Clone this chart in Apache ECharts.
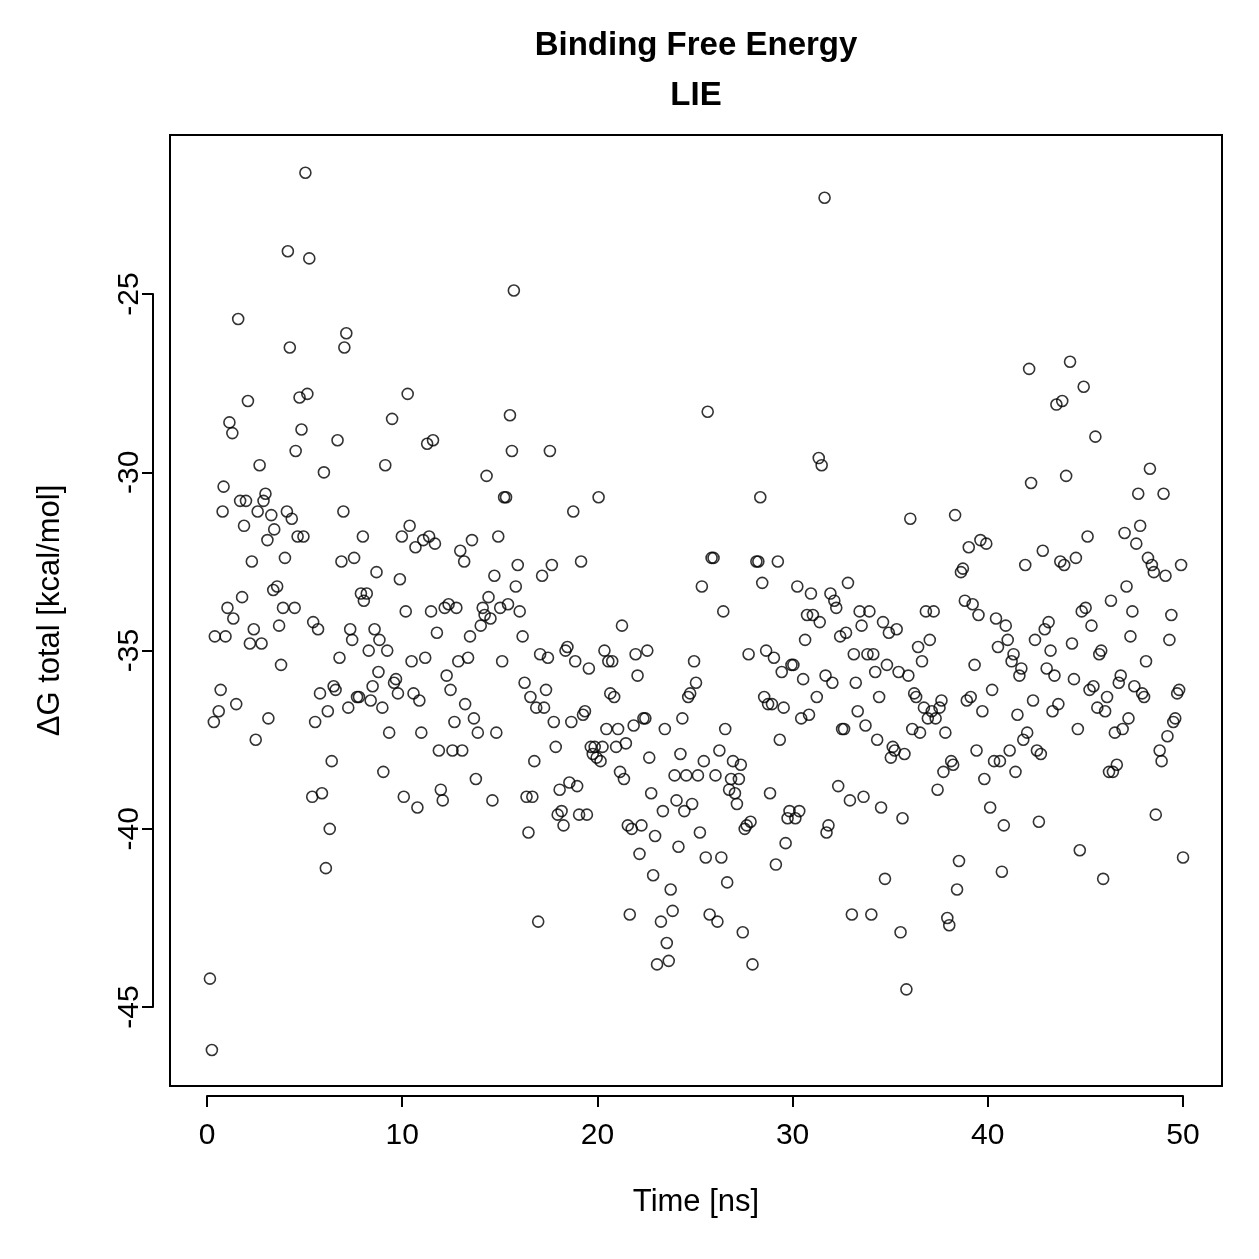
<!DOCTYPE html>
<html>
<head>
<meta charset="utf-8">
<script src="https://cdn.jsdelivr.net/npm/echarts@6/dist/echarts.min.js"></script>
<style>
  html, body { margin: 0; padding: 0; background: #fff; }
  #chart { width: 1259px; height: 1259px; }
</style>
</head>
<body>
<div id="chart"></div>
<script>
// [time in ns, dG total in kcal/mol]
const run0to10 = [
  [0.05,-44.2],[0.15,-46.2],[0.25,-37.0],[0.3,-34.6],[0.5,-36.7],[0.6,-36.1],[0.7,-31.1],[0.75,-30.4],[0.85,-34.6],[0.95,-33.8],
  [1.05,-28.6],[1.2,-28.9],[1.25,-34.1],[1.4,-36.5],[1.5,-25.7],[1.6,-30.8],[1.7,-33.5],[1.8,-31.5],[1.9,-30.8],[2.0,-28.0],
  [2.1,-34.8],[2.2,-32.5],[2.3,-34.4],[2.4,-37.5],[2.5,-31.1],[2.6,-29.8],[2.7,-34.8],[2.8,-30.8],[2.9,-30.6],[3.0,-31.9],
  [3.05,-36.9],[3.2,-31.2],[3.3,-33.3],[3.35,-31.6],[3.5,-33.2],[3.6,-34.3],[3.7,-35.4],[3.8,-33.8],[3.9,-32.4],[4.0,-31.1],
  [4.05,-23.8],[4.15,-26.5],[4.25,-31.3],[4.4,-33.8],[4.45,-29.4],[4.55,-31.8],[4.65,-27.9],[4.75,-28.8],[4.85,-31.8],[4.95,-21.6],
  [5.05,-27.8],[5.15,-24.0],[5.3,-39.1],[5.35,-34.2],[5.45,-37.0],[5.6,-34.4],[5.7,-36.2],[5.8,-39.0],[5.9,-30.0],[6.0,-41.1],
  [6.1,-36.7],[6.2,-40.0],[6.3,-38.1],[6.4,-36.0],[6.5,-36.1],[6.6,-29.1],[6.7,-35.2],[6.8,-32.5],[6.9,-31.1],[6.95,-26.5],
  [7.05,-26.1],[7.15,-36.6],[7.25,-34.4],[7.35,-34.7],[7.45,-32.4],[7.6,-36.3],[7.7,-36.3],[7.8,-33.4],[7.9,-31.8],[7.95,-33.6],
  [8.1,-33.4],[8.2,-35.0],[8.3,-36.4],[8.4,-36.0],[8.5,-34.4],[8.6,-32.8],[8.7,-35.6],[8.75,-34.7],[8.9,-36.6],[8.95,-38.4],
  [9.05,-29.8],[9.15,-35.0],[9.25,-37.3],[9.4,-28.5],[9.5,-35.9],[9.6,-35.8],[9.7,-36.2],[9.8,-33.0],[9.9,-31.8]
]
const run10to20 = [
  [10.0,-39.1],[10.1,-33.9],[10.2,-27.8],[10.3,-31.5],[10.4,-35.3],[10.5,-36.2],[10.6,-32.1],[10.7,-39.4],[10.8,-36.4],[10.9,-37.3],
  [11.0,-31.9],[11.1,-35.2],[11.2,-29.2],[11.3,-31.8],[11.4,-33.9],[11.5,-29.1],[11.6,-32.0],[11.7,-34.5],[11.8,-37.8],[11.9,-38.9],
  [12.0,-39.2],[12.1,-33.8],[12.2,-35.7],[12.3,-33.7],[12.4,-36.1],[12.5,-37.8],[12.6,-37.0],[12.7,-33.8],[12.8,-35.3],[12.9,-32.2],
  [13.0,-37.8],[13.1,-32.5],[13.15,-36.5],[13.3,-35.2],[13.4,-34.6],[13.5,-31.9],[13.6,-36.9],[13.7,-38.6],[13.8,-37.3],[13.95,-34.3],
  [14.05,-33.8],[14.15,-34.0],[14.25,-30.1],[14.35,-33.5],[14.45,-34.1],[14.55,-39.2],[14.65,-32.9],[14.75,-37.3],[14.85,-31.8],[14.95,-33.8],
  [15.05,-35.3],[15.15,-30.7],[15.25,-30.7],[15.35,-33.7],[15.45,-28.4],[15.55,-29.4],[15.65,-24.9],[15.75,-33.2],[15.85,-32.6],[15.95,-33.9],
  [16.1,-34.6],[16.2,-35.9],[16.3,-39.1],[16.4,-40.1],[16.5,-36.3],[16.6,-39.1],[16.7,-38.1],[16.8,-36.6],[16.9,-42.6],[17.0,-35.1],
  [17.1,-32.9],[17.2,-36.6],[17.3,-36.1],[17.4,-35.2],[17.5,-29.4],[17.6,-32.6],[17.7,-37.0],[17.8,-37.7],[17.9,-39.6],[18.0,-38.9],
  [18.1,-39.5],[18.2,-39.9],[18.3,-35.0],[18.4,-34.9],[18.5,-38.7],[18.6,-37.0],[18.7,-31.1],[18.8,-35.3],[18.9,-38.8],[19.0,-39.6],
  [19.1,-32.5],[19.2,-36.8],[19.3,-36.7],[19.4,-39.6],[19.5,-35.5],[19.6,-37.7],[19.7,-37.9],[19.8,-37.7],[19.9,-38.0]
]
const run20to30 = [
  [20.0,-30.7],[20.1,-38.1],[20.2,-37.7],[20.3,-35.0],[20.4,-37.2],[20.5,-35.3],[20.6,-36.2],[20.7,-35.3],[20.8,-36.3],[20.9,-37.7],
  [21.0,-37.2],[21.1,-38.4],[21.2,-34.3],[21.3,-38.6],[21.4,-37.6],[21.5,-39.9],[21.6,-42.4],[21.7,-40.0],[21.8,-37.1],[21.9,-35.1],
  [22.0,-35.7],[22.1,-40.7],[22.2,-39.9],[22.3,-36.9],[22.4,-36.9],[22.5,-35.0],[22.6,-38.0],[22.7,-39.0],[22.8,-41.3],[22.9,-40.2],
  [23.0,-43.8],[23.2,-42.6],[23.3,-39.5],[23.4,-37.2],[23.5,-43.2],[23.6,-43.7],[23.7,-41.7],[23.8,-42.3],[23.9,-38.5],[24.0,-39.2],
  [24.1,-40.5],[24.2,-37.9],[24.3,-36.9],[24.4,-39.5],[24.5,-38.5],[24.6,-36.3],[24.7,-36.2],[24.8,-39.3],[24.9,-35.3],[25.0,-35.9],
  [25.1,-38.5],[25.2,-40.1],[25.3,-33.2],[25.4,-38.1],[25.5,-40.8],[25.6,-28.3],[25.7,-42.4],[25.8,-32.4],[25.9,-32.4],[26.0,-38.5],
  [26.1,-42.6],[26.2,-37.8],[26.3,-40.8],[26.4,-33.9],[26.5,-37.2],[26.6,-41.5],[26.7,-38.9],[26.8,-38.6],[26.9,-38.1],[27.0,-39.0],
  [27.1,-39.3],[27.2,-38.6],[27.3,-38.2],[27.4,-42.9],[27.5,-40.0],[27.6,-39.9],[27.7,-35.1],[27.8,-39.8],[27.9,-43.8],[28.1,-32.5],
  [28.2,-32.5],[28.3,-30.7],[28.4,-33.1],[28.5,-36.3],[28.6,-35.0],[28.7,-36.5],[28.8,-39.0],[28.9,-36.5],[29.0,-35.2],[29.1,-41.0],
  [29.2,-32.5],[29.3,-37.5],[29.4,-35.6],[29.5,-36.6],[29.6,-40.4],[29.7,-39.7],[29.8,-39.5],[29.9,-35.4]
]
const run30to40 = [
  [30.0,-35.4],[30.1,-39.7],[30.2,-33.2],[30.3,-39.5],[30.4,-36.9],[30.5,-35.8],[30.6,-34.7],[30.7,-34.0],[30.8,-36.8],[30.9,-33.4],
  [31.0,-34.0],[31.2,-36.3],[31.3,-29.6],[31.35,-34.2],[31.45,-29.8],[31.6,-22.3],[31.65,-35.7],[31.7,-40.1],[31.8,-39.9],[31.9,-33.4],
  [32.0,-35.9],[32.1,-33.6],[32.2,-33.8],[32.3,-38.8],[32.4,-34.6],[32.5,-37.2],[32.6,-37.2],[32.7,-34.5],[32.8,-33.1],[32.9,-39.2],
  [33.0,-42.4],[33.1,-35.1],[33.2,-35.9],[33.3,-36.7],[33.4,-33.9],[33.5,-34.3],[33.6,-39.1],[33.7,-37.1],[33.8,-35.1],[33.9,-33.9],
  [34.0,-42.4],[34.1,-35.1],[34.2,-35.6],[34.3,-37.5],[34.4,-36.3],[34.5,-39.4],[34.6,-34.2],[34.7,-41.4],[34.8,-35.4],[34.9,-34.5],
  [35.0,-38.0],[35.1,-37.7],[35.2,-37.8],[35.3,-34.4],[35.4,-35.6],[35.5,-42.9],[35.6,-39.7],[35.7,-37.9],[35.8,-44.5],[35.9,-35.7],
  [36.0,-31.3],[36.1,-37.2],[36.2,-36.2],[36.3,-36.3],[36.4,-34.9],[36.5,-37.3],[36.6,-35.3],[36.7,-36.6],[36.8,-33.9],[36.9,-36.9],
  [37.0,-34.7],[37.1,-36.7],[37.2,-33.9],[37.3,-36.9],[37.4,-38.9],[37.5,-36.6],[37.6,-36.4],[37.7,-38.4],[37.8,-37.3],[37.9,-42.5],
  [38.0,-42.7],[38.1,-38.1],[38.2,-38.2],[38.3,-31.2],[38.4,-41.7],[38.5,-40.9],[38.6,-32.8],[38.7,-32.7],[38.8,-33.6],[38.9,-36.4],
  [39.0,-32.1],[39.1,-36.3],[39.2,-33.7],[39.3,-35.4],[39.4,-37.8],[39.5,-34.0],[39.6,-31.9],[39.7,-36.7],[39.8,-38.6],[39.9,-32.0]
]
const run40to50 = [
  [40.1,-39.4],[40.2,-36.1],[40.3,-38.1],[40.4,-34.1],[40.5,-34.9],[40.6,-38.1],[40.7,-41.2],[40.8,-39.9],[40.9,-34.3],[41.0,-34.7],
  [41.1,-37.8],[41.2,-35.3],[41.3,-35.1],[41.4,-38.4],[41.5,-36.8],[41.6,-35.7],[41.7,-35.5],[41.8,-37.5],[41.9,-32.6],[42.0,-37.3],
  [42.1,-27.1],[42.2,-30.3],[42.3,-36.4],[42.4,-34.7],[42.5,-37.8],[42.6,-39.8],[42.7,-37.9],[42.8,-32.2],[42.9,-34.4],[43.0,-35.5],
  [43.1,-34.2],[43.2,-35.0],[43.3,-36.7],[43.4,-35.7],[43.5,-28.1],[43.6,-36.5],[43.7,-32.5],[43.8,-28.0],[43.9,-32.6],[44.0,-30.1],
  [44.2,-26.9],[44.3,-34.8],[44.4,-35.8],[44.5,-32.4],[44.6,-37.2],[44.7,-40.6],[44.8,-33.9],[44.9,-27.6],[45.0,-33.8],[45.1,-31.8],
  [45.2,-36.1],[45.3,-34.3],[45.4,-36.0],[45.5,-29.0],[45.6,-36.6],[45.7,-35.1],[45.8,-35.0],[45.9,-41.4],[46.0,-36.7],[46.1,-36.3],
  [46.2,-38.4],[46.3,-33.6],[46.4,-38.4],[46.5,-37.3],[46.6,-38.2],[46.7,-35.9],[46.8,-35.7],[46.9,-37.2],[47.0,-31.7],[47.1,-33.2],
  [47.2,-36.9],[47.3,-34.6],[47.4,-33.9],[47.5,-36.0],[47.6,-32.0],[47.7,-30.6],[47.8,-31.5],[47.9,-36.2],[48.0,-36.3],[48.1,-35.3],
  [48.2,-32.4],[48.3,-29.9],[48.4,-32.6],[48.5,-32.8],[48.6,-39.6],[48.8,-37.8],[48.9,-38.1],[49.0,-30.6],[49.1,-32.9],[49.2,-37.4],
  [49.3,-34.7],[49.4,-34.0],[49.5,-37.0],[49.6,-36.9],[49.7,-36.2],[49.8,-36.1],[49.9,-32.6],[50.0,-40.8]
]

const xTicks = { min: 0, max: 50, step: 10 }
const yTicks = { min: -45, max: -25, step: 5 }

const font = 'Liberation Sans, Arial, Helvetica, sans-serif'
const allPoints = [].concat(run0to10, run10to20, run20to30, run30to40, run40to50)

const chart = echarts.init(document.getElementById('chart'), null, { renderer: 'canvas' })

const option = {
  backgroundColor: '#fff',
  animation: false,
  textStyle: { fontFamily: font, color: '#000' },
  graphic: [
    {
      type: 'text',
      x: 696,
      y: 71,
      style: {
        text: 'Binding Free Energy\nLIE',
        font: 'bold 33px ' + font,
        fill: '#000',
        align: 'center',
        verticalAlign: 'middle',
        lineHeight: 50,
      },
    },
  ],
  grid: [
    // plotting box
    { left: 170, right: 37, top: 135, bottom: 173, show: true, borderColor: '#000', borderWidth: 2, backgroundColor: 'transparent' },
    // axes drawn R-style, spanning only the tick range
    { left: 207, right: 76, top: 294, bottom: 252, show: false },
  ],
  xAxis: [
    {
      gridIndex: 0,
      type: 'value',
      min: -2,
      max: 52,
      name: 'Time [ns]',
      nameLocation: 'middle',
      nameGap: 101,
      nameTextStyle: { fontSize: 31, fontFamily: font, color: '#000' },
      axisLine: { show: false },
      axisTick: { show: false },
      axisLabel: { show: false },
      splitLine: { show: false },
    },
    {
      gridIndex: 1,
      type: 'value',
      position: 'bottom',
      offset: 89,
      min: xTicks.min,
      max: xTicks.max,
      interval: xTicks.step,
      axisLine: { show: true, onZero: false, lineStyle: { color: '#000', width: 2 } },
      axisTick: { show: true, length: 11, lineStyle: { color: '#000', width: 2 } },
      axisLabel: { fontSize: 30, fontFamily: font, color: '#000', margin: 25 },
      splitLine: { show: false },
    },
  ],
  yAxis: [
    {
      gridIndex: 0,
      type: 'value',
      min: -47.21,
      max: -20.54,
      name: 'ΔG total [kcal/mol]',
      nameLocation: 'middle',
      nameGap: 104,
      nameTextStyle: { fontSize: 31, fontFamily: font, color: '#000' },
      axisLine: { show: false },
      axisTick: { show: false },
      axisLabel: { show: false },
      splitLine: { show: false },
    },
    {
      gridIndex: 1,
      type: 'value',
      position: 'left',
      offset: 54,
      min: yTicks.min,
      max: yTicks.max,
      interval: yTicks.step,
      axisLine: { show: true, onZero: false, lineStyle: { color: '#000', width: 2 } },
      axisTick: { show: true, length: 11, lineStyle: { color: '#000', width: 2 } },
      axisLabel: { fontSize: 30, fontFamily: font, color: '#000', rotate: 90, margin: 8 },
      splitLine: { show: false },
    },
  ],
  series: [
    {
      type: 'scatter',
      xAxisIndex: 0,
      yAxisIndex: 0,
      data: allPoints,
      symbol: 'circle',
      symbolSize: 11,
      itemStyle: { color: 'rgba(0,0,0,0)', borderColor: '#000', borderWidth: 1.6 },
    },
  ],
}

chart.setOption(option)
</script>
</body>
</html>
